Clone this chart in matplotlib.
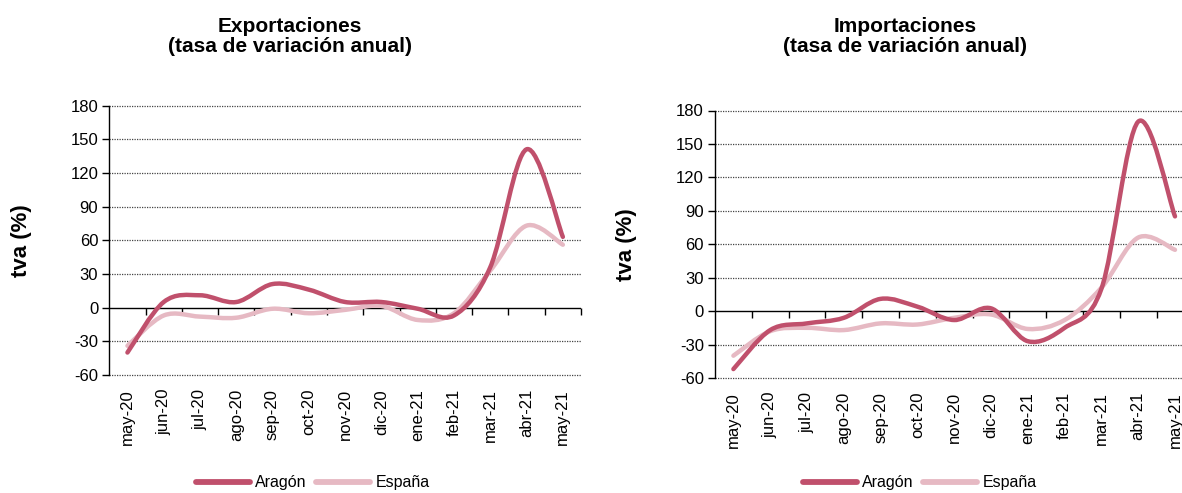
import matplotlib
matplotlib.use("Agg")
import matplotlib.pyplot as plt
from matplotlib.path import Path
from matplotlib.patches import PathPatch
from matplotlib.lines import Line2D
import numpy as np

plt.rcParams['font.family'] = ['Liberation Sans', 'DejaVu Sans']
plt.rcParams['axes.unicode_minus'] = False

months = ["may-20", "jun-20", "jul-20", "ago-20", "sep-20", "oct-20", "nov-20",
          "dic-20", "ene-21", "feb-21", "mar-21", "abr-21", "may-21"]

exp_aragon = [-40, 5, 11, 5, 21, 16, 5, 5, -1, -7, 36, 141, 63]
exp_espana = [-34, -7, -8, -9, -1, -5, -2, 1.5, -11, -5, 33, 73, 56]

imp_aragon = [-52, -17, -11, -6, 11, 4, -8, 2.5, -27, -15, 20, 170, 85]
imp_espana = [-40, -18, -15, -17, -11, -12, -6, -3, -16, -8, 21, 66, 55]

series_names = ["Aragón", "España"]
colors = ["#C0506C", "#E6B9C3"]
yticks = [-60, -30, 0, 30, 60, 90, 120, 150, 180]

W, H = 1182, 493
fig = plt.figure(figsize=(W / 100, H / 100), dpi=100)


def smooth_path(y):
    x = np.arange(len(y), dtype=float)
    pts = np.column_stack([x, np.asarray(y, dtype=float)])
    n = len(pts)
    verts = [pts[0]]
    codes = [Path.MOVETO]
    for i in range(n - 1):
        p0 = pts[i - 1] if i > 0 else pts[i]
        p1 = pts[i]
        p2 = pts[i + 1]
        p3 = pts[i + 2] if i + 2 < n else pts[i + 1]
        c1 = p1 + (p2 - p0) / 6.0
        c2 = p2 - (p3 - p1) / 6.0
        verts += [c1, c2, p2]
        codes += [Path.CURVE4] * 3
    return Path(verts, codes)


def make_panel(rect, title, title_x, data, ylab_x, legend_x):
    ax = fig.add_axes(rect)
    n = len(months)
    ax.set_xlim(-0.5, n - 0.5)
    ax.set_ylim(-60, 180)
    ax.set_yticks(yticks)
    ax.tick_params(axis='y', labelsize=12, length=5, width=1, direction='out', pad=3)
    ax.set_xticks(range(n), labels=months, rotation=90)
    ax.tick_params(axis='x', labelsize=12, length=0, pad=10)
    for s in ['top', 'right', 'bottom']:
        ax.spines[s].set_visible(False)
    ax.spines['left'].set_linewidth(1)
    for v in yticks:
        if v != 0:
            ax.axhline(v, color='#444444', lw=0.9, ls=(0, (1, 1)), zorder=1,
                       clip_on=False)
    ax.axhline(0, color='black', lw=1, zorder=2)
    sec = ax.secondary_xaxis(60 / 240)
    sec.set_xticks(np.arange(0.5, n, 1.0))
    sec.tick_params(axis='x', length=5, width=1, direction='out', labelbottom=False)
    sec.spines['bottom'].set_visible(False)
    sec.xaxis.set_ticklabels([])
    for yv, c, z in zip(data[::-1], colors[::-1], [3, 4]):
        patch = PathPatch(smooth_path(yv), facecolor='none', edgecolor=c, lw=3.2,
                          capstyle='round', joinstyle='round', zorder=z, clip_on=False)
        ax.add_patch(patch)
    ax.set_ylabel("tva (%)", fontsize=16, fontweight='bold')
    ax.yaxis.set_label_coords(ylab_x, 0.5)
    fig.text(title_x, 1 - 36.5 / H, title, ha='center', va='center', fontsize=15,
             fontweight='bold', linespacing=1.0)
    handles = [Line2D([], [], color=c, lw=4.2, solid_capstyle='round') for c in colors]
    fig.legend(handles, series_names, loc='center left',
               bbox_to_anchor=(legend_x, 1 - 483 / H), ncol=2, frameon=False,
               fontsize=11.5, handlelength=3.4, handletextpad=0.3, columnspacing=0.6,
               borderaxespad=0, borderpad=0)
    return ax


make_panel([109.3 / W, 1 - 375 / H, 471.7 / W, 269.5 / H],
           "Exportaciones\n(tasa de variación anual)", 290 / W,
           [exp_aragon, exp_espana], -0.1645, 196 / W)
make_panel([715 / W, 1 - 378 / H, 478.4 / W, 267.5 / H],
           "Importaciones\n(tasa de variación anual)", 905 / W,
           [imp_aragon, imp_espana], -0.162, 803 / W)

fig.savefig("out.png", dpi=100)
